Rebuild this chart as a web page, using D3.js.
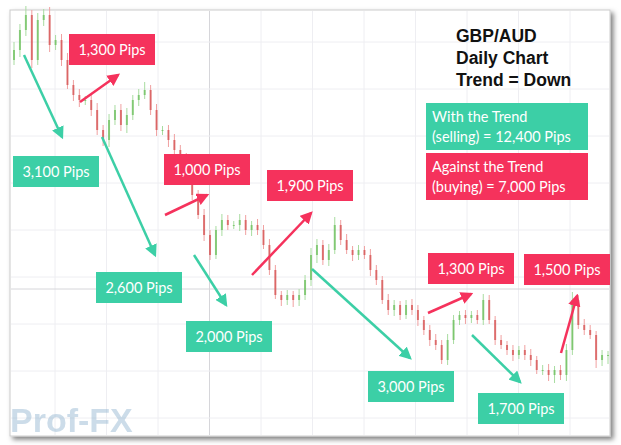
<!DOCTYPE html>
<html><head><meta charset="utf-8">
<script src="https://cdn.jsdelivr.net/npm/d3@7"></script>
<style>body{margin:0;background:#fff}</style>
</head><body><div id="chart"></div>
<script>
// closing prices (chart units), one per session
const closes = [395,415,430,385,425,430,400,405,385,360,350,345,345,335,315,305,325,335,320,330,345,350,355,335,315,315,305,295,285,270,250,230,210,190,215,225,220,220,225,215,220,215,200,175,150,145,150,145,150,165,190,200,185,195,220,205,195,190,195,190,175,165,145,135,140,130,140,135,125,115,105,100,85,105,125,130,127,130,125,145,125,105,100,95,90,95,90,85,75,75,70,75,70,95,145,120,115,110,85,90,90];
const wicks = [8,6,9,5,7,6,8,5,6,7,5,6,4,6,7,5,6,5,6,7,5,6,8,5,6,4,5,6,5,7,6,5,6,5,4,6,5,4,6,5,4,6,5,6,5,4,5,4,6,5,7,6,5,6,8,5,6,4,5,4,6,5,4,6,5,4,5,6,5,4,5,6,5,6,5,4,5,4,5,6,5,4,5,4,5,4,5,6,4,5,6,4,5,6,8,5,6,5,4,5,4];
const labelTexts = ["1,300 Pips","3,100 Pips","1,000 Pips","1,900 Pips","2,600 Pips","2,000 Pips","1,300 Pips","1,500 Pips","3,000 Pips","1,700 Pips"];
const labelKinds = ["up","down","up","up","down","down","up","up","down","down"];
const titleLines = ["GBP/AUD","Daily Chart","Trend = Down"];
const summaryLines = [["With the Trend","(selling) = 12,400 Pips"],["Against the Trend","(buying) = 7,000 Pips"]];

const W = 621, H = 445;
const colors = {up:"#f5325c", down:"#3ccfa6"};
const svg = d3.select("#chart").append("svg").attr("width", W).attr("height", H);

const defs = svg.append("defs");
const f = defs.append("filter").attr("id","sh").attr("x","-5%").attr("y","-5%").attr("width","115%").attr("height","115%");
f.append("feDropShadow").attr("dx",3).attr("dy",3).attr("stdDeviation",2.5).attr("flood-color","#000").attr("flood-opacity",0.5);
["up","down"].forEach(k => defs.append("marker").attr("id","m"+k).attr("viewBox","0 0 10 10")
  .attr("refX",8).attr("refY",5).attr("markerWidth",5).attr("markerHeight",5).attr("orient","auto")
  .append("path").attr("d","M0,0L10,5L0,10z").attr("fill",colors[k]));

// panel
svg.append("rect").attr("x",10).attr("y",10).attr("width",600).attr("height",426)
  .attr("fill","#fff").attr("stroke","#ccc").attr("filter","url(#sh)");

const x = d3.scaleLinear().domain([0, closes.length - 1]).range([14, 608]);
const y = d3.scaleLinear().domain([5, 435]).range([440, 10]);

// grid
const g = svg.append("g");
d3.range(55, 610, 51.5).forEach((gx,i) => g.append("line").attr("x1",gx).attr("x2",gx).attr("y1",11).attr("y2",435)
  .attr("stroke", i===3 ? "#d6d6da" : "#eeeef2"));
d3.range(42, 435, 47).forEach(gy => g.append("line").attr("x1",11).attr("x2",609).attr("y1",gy).attr("y2",gy).attr("stroke","#eeeef2"));
g.append("line").attr("x1",11).attr("x2",609).attr("y1",289).attr("y2",289).attr("stroke","#d6d6da");

// candles
const bw = 2;
const candles = svg.append("g").selectAll("g").data(closes).join("g");
candles.each(function(c, i) {
  const o = i === 0 ? c - 10 : closes[i-1];
  const up = c >= o;
  const hi = Math.max(o, c) + wicks[i], lo = Math.min(o, c) - wicks[(i+3) % wicks.length];
  const s = d3.select(this);
  s.append("line").attr("x1",x(i)).attr("x2",x(i)).attr("y1",y(hi)).attr("y2",y(lo))
    .attr("stroke", up ? "#a8dca0" : "#f0a0a0").attr("stroke-width",1);
  s.append("rect").attr("x",x(i)-bw/2).attr("width",bw)
    .attr("y",y(Math.max(o,c))).attr("height",Math.max(1, Math.abs(y(o)-y(c))))
    .attr("fill", up ? "#6cbf5c" : "#d45050").attr("opacity",0.75);
});

// arrows
const arrowPos = [[24,55,62,137,"down"],[80,102,118,75,"up"],[102,137,155,255,"down"],[165,215,207,195,"up"],
  [194,255,226,305,"down"],[252,275,311,213,"up"],[312,269,410,358,"down"],[428,313,471,294,"up"],
  [472,335,520,382,"down"],[561,353,577,296,"up"]];
svg.append("g").selectAll("line").data(arrowPos).join("line")
  .attr("x1",d=>d[0]).attr("y1",d=>d[1]).attr("x2",d=>d[2]).attr("y2",d=>d[3])
  .attr("stroke",d=>colors[d[4]]).attr("stroke-width",2.5).attr("marker-end",d=>`url(#m${d[4]})`);

// pip labels
const labelPos = [[69,34],[13,156],[164,154],[267,170],[96,272],[186,321],[428,253],[524,254],[368,371],[478,393]];
const lab = svg.append("g").selectAll("g").data(labelTexts).join("g")
  .attr("transform",(d,i)=>`translate(${labelPos[i][0]},${labelPos[i][1]})`);
lab.append("rect").attr("width",86).attr("height",31).attr("fill",(d,i)=>colors[labelKinds[i]]);
lab.append("text").attr("x",43).attr("y",21).attr("text-anchor","middle").attr("fill","#fff")
  .attr("font-family","Lato").attr("font-size",14.5).text(d=>d);

// summary boxes
const sum = svg.append("g").selectAll("g").data(summaryLines).join("g")
  .attr("transform",(d,i)=>`translate(426,${103 + i*50})`);
sum.append("rect").attr("width",162).attr("height",47).attr("fill",(d,i)=>i===0?colors.down:colors.up);
sum.each(function(lines){
  d3.select(this).selectAll("text").data(lines).join("text").attr("x",6).attr("y",(d,j)=>19+j*20)
    .attr("fill","#fff").attr("font-family","Lato").attr("font-size",14.5).text(d=>d);
});

// title
svg.append("g").selectAll("text").data(titleLines).join("text")
  .attr("x",456).attr("y",(d,i)=>42+i*22).attr("font-family","Liberation Sans").attr("font-weight","bold")
  .attr("font-size",17.5).attr("fill","#111").text(d=>d);

// watermark
svg.append("text").attr("x",10).attr("y",432).attr("font-family","Liberation Sans").attr("font-weight","bold")
  .attr("font-size",34).attr("fill","#8fb3cf").attr("opacity",0.45).text("Prof-FX");
</script></body></html>
